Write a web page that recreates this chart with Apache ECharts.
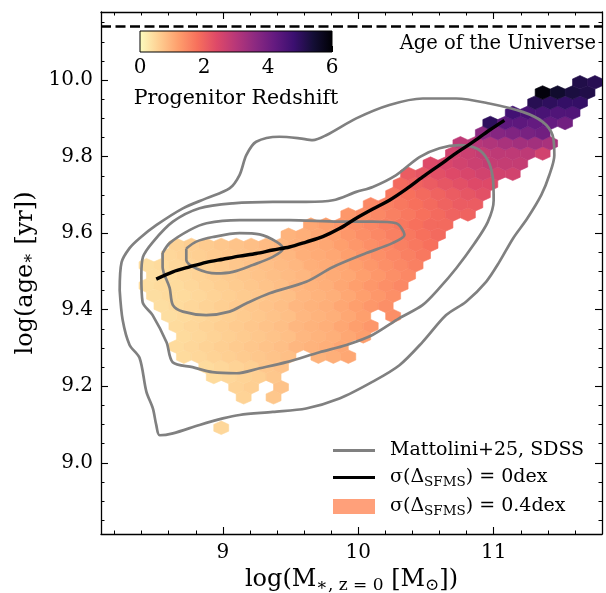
<!DOCTYPE html>
<html>
<head>
<meta charset="utf-8">
<script src="https://cdn.jsdelivr.net/npm/echarts@6/dist/echarts.min.js"></script>
<style>
  html, body { margin: 0; padding: 0; background: #ffffff; }
  #chart { width: 606px; height: 593px; }
</style>
</head>
<body>
<div id="chart"></div>
<script>
// ---- axis ranges and ticks ----
const xRange = [8.1, 11.8];
const yRange = [8.814, 10.178];
const xTickMajor = [9, 10, 11];
const xTickMinor = [8.2, 8.4, 8.6, 8.8, 9.2, 9.4, 9.6, 9.8, 10.2, 10.4, 10.6, 10.8, 11.2, 11.4, 11.6];
const yTickMajor = [9.0, 9.2, 9.4, 9.6, 9.8, 10.0];
const yTickMinor = [8.85, 8.9, 8.95, 9.05, 9.1, 9.15, 9.25, 9.3, 9.35, 9.45, 9.5, 9.55,
                    9.65, 9.7, 9.75, 9.85, 9.9, 9.95, 10.05, 10.1, 10.15];
const cbarRange = [0, 6];
const cbarTickMajor = [0, 2, 4, 6];
const cbarTickMinor = [0.5, 1, 1.5, 2.5, 3, 3.5, 4.5, 5, 5.5];

// log10 of the age of the Universe [yr]
const ageUniverse = 10.14;

// ---- hexbin of progenitor redshift ----
// lattice of bin centres (data units); odd rows are shifted by half a column
const hexOriginX = 8.988;
const hexOriginY = 9.0915;
const hexStepX = 0.1104;
const hexStepY = 0.02655;
// [row, first column, mean progenitor redshift per cell (null = empty cell)]
const hexRows = [
  [0, 0, [0.5]],
  [3, 1, [0.55, null, 0.7]],
  [4, 1, [0.55, 0.6, null, 0.75]],
  [5, -1, [0.45, 0.5, 0.55, 0.6, 0.7]],
  [6, -1, [0.45, 0.5, 0.55, 0.6, 0.7, 0.75]],
  [7, -3, [0.45, 0.5, 0.55, 0.6, 0.65, 0.7, 0.75, 0.8, null, 0.95, 1.0, 1.1]],
  [8, -3, [0.45, 0.5, 0.55, 0.6, 0.65, 0.7, 0.75, 0.8, 0.9, 0.95, 1.0, 1.1]],
  [9, -3, [0.45, 0.5, 0.55, 0.6, 0.65, 0.7, 0.75, 0.8, 0.9, 0.95, 1.0, 1.1, 1.2]],
  [10, -3, [0.45, 0.5, 0.55, 0.6, 0.65, 0.7, 0.75, 0.8, 0.9, 0.95, 1.0, 1.1, 1.2, 1.3]],
  [11, -4, [0.4, 0.45, 0.5, 0.55, 0.6, 0.65, 0.7, 0.75, 0.8, 0.9, 0.95, 1.0, 1.1, 1.2, null, 1.4]],
  [12, -4, [0.4, 0.45, 0.5, 0.55, 0.6, 0.65, 0.7, 0.75, 0.8, 0.9, 0.95, 1.0, 1.1, 1.2, 1.3, 1.4]],
  [13, -5, [0.4, 0.45, 0.45, 0.5, 0.55, 0.6, 0.65, 0.7, 0.75, 0.8, 0.9, 0.95, 1.0, 1.1, 1.2, 1.3, 1.4]],
  [14, -5, [0.4, 0.45, 0.45, 0.5, 0.55, 0.6, 0.65, 0.7, 0.75, 0.8, 0.9, 0.95, 1.0, 1.1, 1.2, 1.3, 1.4, 1.5]],
  [15, -5, [0.4, 0.45, 0.5, 0.55, 0.6, 0.65, 0.7, 0.75, 0.8, 0.85, 0.9, 1.0, 1.05, 1.1, 1.2, 1.3, 1.4, 1.5]],
  [16, -5, [0.4, 0.45, 0.5, 0.55, 0.6, 0.65, 0.7, 0.75, 0.8, 0.85, 0.9, 1.0, 1.05, 1.1, 1.2, 1.3, 1.4, 1.5, 1.6]],
  [17, -4, [0.5, 0.55, 0.6, 0.65, 0.7, 0.75, 0.8, 0.85, 0.9, 1.0, 1.05, 1.1, 1.2, 1.3, 1.4, 1.5, 1.6, 1.7]],
  [18, -3, [0.55, 0.6, 0.65, 0.7, 0.75, 0.8, 0.85, 0.9, 1.0, 1.05, 1.1, 1.2, 1.3, 1.4, 1.5, 1.6, 1.7, 1.8]],
  [19, 4, [0.95, 1.0, 1.1, 1.2, 1.3, 1.4, 1.5, 1.6, 1.7, 1.8, 1.9]],
  [20, 6, [1.1, 1.2, 1.3, 1.4, 1.5, 1.6, 1.7, 1.8, 1.9, 1.9]],
  [21, 8, [1.3, 1.4, 1.5, 1.6, 1.7, 1.8, 1.9, 2.0, 2.0]],
  [22, 10, [1.5, 1.6, 1.7, 1.8, 1.9, 2.0, 2.1, 2.1]],
  [23, 11, [1.7, 1.8, 1.9, 2.0, 2.1, 2.2, 2.3]],
  [24, 12, [1.9, 2.0, 2.1, 2.2, 2.3, 2.4, 2.4]],
  [25, 12, [2.1, 2.2, 2.3, 2.4, 2.5, 2.6, 2.6, 2.6]],
  [26, 14, [2.4, 2.5, 2.6, 2.7, 2.8, 2.8, 2.8]],
  [27, 15, [2.6, 2.7, 2.8, 2.9, 2.9, 2.9, 2.6]],
  [28, 16, [2.9, 3.0, 3.1, 3.2, 3.3, 3.3, 3.2]],
  [29, 17, [3.6, 3.7, 3.8, 3.9, 4.0]],
  [30, 18, [5.0, 4.3, 4.3, 4.2, 4.2, 4.0]],
  [31, 19, [4.7, 4.6, 4.6, 4.5, 4.5]],
  [32, 21, [5.1, 5.0, 4.9, 4.9]],
  [33, 21, [5.9, 5.5, 5.3, 5.2]],
  [34, 24, [5.2, 5.1]]
];

// ---- SDSS age–mass density contours (log M*, log age) ----
const contour1 = [
  [8.730, 9.560], [8.804, 9.578], [8.926, 9.590], [9.123, 9.600], [9.271, 9.597],
  [9.394, 9.578], [9.443, 9.560], [9.369, 9.538], [9.221, 9.517], [9.074, 9.499],
  [8.951, 9.495], [8.804, 9.508], [8.730, 9.530], [8.730, 9.560]
];
const contour2 = [
  [8.555, 9.548], [8.607, 9.574], [8.754, 9.608], [8.880, 9.626], [9.123, 9.634],
  [9.492, 9.634], [9.861, 9.630], [10.105, 9.630], [10.280, 9.626], [10.341, 9.595],
  [10.252, 9.574], [10.060, 9.548], [9.810, 9.511], [9.615, 9.473], [9.345, 9.443],
  [9.175, 9.417], [9.049, 9.395], [8.877, 9.386], [8.705, 9.395], [8.631, 9.412],
  [8.607, 9.457], [8.555, 9.512], [8.555, 9.548]
];
const contour3 = [
  [8.398, 9.490], [8.410, 9.538], [8.483, 9.577], [8.631, 9.630], [8.828, 9.665],
  [9.074, 9.678], [9.369, 9.682], [9.615, 9.682], [9.812, 9.686], [9.985, 9.708],
  [10.107, 9.721], [10.280, 9.752], [10.452, 9.799], [10.600, 9.822], [10.747, 9.830],
  [10.882, 9.820], [10.956, 9.791], [10.993, 9.747], [11.000, 9.686], [10.956, 9.629],
  [10.850, 9.569], [10.725, 9.509], [10.600, 9.457], [10.474, 9.412], [10.304, 9.378],
  [10.105, 9.334], [9.913, 9.308], [9.714, 9.289], [9.470, 9.263], [9.271, 9.247],
  [9.101, 9.234], [8.924, 9.237], [8.776, 9.250], [8.629, 9.263], [8.584, 9.315],
  [8.481, 9.386], [8.407, 9.420], [8.398, 9.490]
];
const contour4 = [
  [8.238, 9.451], [8.252, 9.524], [8.311, 9.561], [8.385, 9.587], [8.508, 9.621],
  [8.705, 9.665], [8.877, 9.691], [9.049, 9.717], [9.123, 9.752], [9.173, 9.804],
  [9.246, 9.839], [9.418, 9.852], [9.566, 9.848], [9.664, 9.843], [9.763, 9.856],
  [9.985, 9.900], [10.230, 9.935], [10.476, 9.952], [10.723, 9.952], [10.968, 9.939],
  [11.214, 9.917], [11.362, 9.891], [11.435, 9.856], [11.448, 9.804], [11.411, 9.752],
  [11.352, 9.700], [11.249, 9.639], [11.144, 9.587], [11.042, 9.525], [10.944, 9.473],
  [10.796, 9.421], [10.649, 9.386], [10.476, 9.316], [10.304, 9.255], [10.107, 9.212],
  [9.861, 9.168], [9.615, 9.142], [9.369, 9.133], [9.123, 9.125], [9.000, 9.116],
  [8.828, 9.099], [8.631, 9.077], [8.533, 9.072], [8.508, 9.099], [8.483, 9.142],
  [8.435, 9.186], [8.385, 9.274], [8.311, 9.308], [8.260, 9.373], [8.238, 9.451]
];

// ---- zero-scatter model track ----
const trackMass = [8.508, 8.631, 8.754, 8.877, 9.000, 9.123, 9.246, 9.369, 9.492, 9.615,
                   9.738, 9.861, 9.985, 10.107, 10.230, 10.354, 10.476, 10.600, 10.723,
                   10.845, 10.968, 11.079];
const trackAge = [9.480, 9.499, 9.512, 9.524, 9.532, 9.540, 9.547, 9.556, 9.564, 9.577,
                  9.591, 9.612, 9.639, 9.663, 9.686, 9.715, 9.747, 9.778, 9.809,
                  9.838, 9.869, 9.895];

// ---- names ----
const nameSDSS = 'Mattolini+25, SDSS';
const nameTrack = 'σ(Δ_SFMS) = 0dex';
const nameHex = 'σ(Δ_SFMS) = 0.4dex';

// magma colormap, reversed (low redshift = pale)
const magmaR = ['#fcfdbf', '#fecf92', '#fe9f6d', '#f7705c', '#de4968', '#b73779',
                '#8c2981', '#641a80', '#3b0f70', '#140e36', '#000004'];

const FONT = 'DejaVu Serif';
const TICK_FS = 20;

// build hex cells
const hexData = [];
hexRows.forEach(([row, col0, vals]) => {
  vals.forEach((v, k) => {
    if (v === null) return;
    const c = col0 + k + (row % 2 ? 0.5 : 0);
    hexData.push([hexOriginX + c * hexStepX, hexOriginY + row * hexStepY, v]);
  });
});

const chart = echarts.init(document.getElementById('chart'), null, { renderer: 'canvas' });

function tickAxis(dim, extra) {
  const base = {
    type: 'value', gridIndex: 0,
    min: dim === 'x' ? xRange[0] : yRange[0],
    max: dim === 'x' ? xRange[1] : yRange[1],
    splitLine: { show: false },
    axisLine: { show: false, onZero: false },
    axisLabel: { show: false },
    axisTick: { show: true, inside: true, length: 7, lineStyle: { color: '#000', width: 1.1 } }
  };
  return Object.assign(base, extra);
}

const axisText = { fontFamily: FONT, fontSize: TICK_FS, color: '#000' };
const lineIcon = 'path://M0,0H14V1H0Z';

const option = {
  animation: false,
  backgroundColor: '#ffffff',
  grid: [
    { left: 101, top: 12, width: 501, height: 522, containLabel: false, outerBoundsMode: 'none' },
    { left: 140, top: 31, width: 192, height: 21, containLabel: false, outerBoundsMode: 'none' }
  ],
  xAxis: [
    tickAxis('x', {
      position: 'bottom',
      axisLine: { show: true, onZero: false, lineStyle: { color: '#000', width: 1.3 } },
      axisTick: { show: true, inside: true, length: 7, customValues: xTickMajor, lineStyle: { color: '#000', width: 1.1 } },
      axisLabel: { show: true, customValues: xTickMajor, margin: 9, formatter: v => String(Math.round(v)), ...axisText },
      name: '{a|log(M}{s|∗, z = 0}{a| [M}{s|⊙}{a|])}',
      nameLocation: 'middle', nameGap: 30,
      nameTextStyle: {
        fontFamily: FONT, fontSize: 24, color: '#000',
        rich: {
          a: { fontFamily: FONT, fontSize: 24, color: '#000' },
          s: { fontFamily: FONT, fontSize: 17, color: '#000', padding: [11, 0, 0, 0] }
        }
      }
    }),
    tickAxis('x', { position: 'bottom', axisTick: { show: true, inside: true, length: 3.5, customValues: xTickMinor, lineStyle: { color: '#000', width: 1 } } }),
    tickAxis('x', { position: 'top', axisLine: { show: true, onZero: false, lineStyle: { color: '#000', width: 1.3 } },
      axisTick: { show: true, inside: true, length: 7, customValues: xTickMajor, lineStyle: { color: '#000', width: 1.1 } } }),
    tickAxis('x', { position: 'top', axisTick: { show: true, inside: true, length: 3.5, customValues: xTickMinor, lineStyle: { color: '#000', width: 1 } } }),
    {
      type: 'value', gridIndex: 1, min: cbarRange[0], max: cbarRange[1], position: 'bottom',
      splitLine: { show: false },
      axisLine: { show: false, onZero: false },
      axisTick: { show: true, inside: true, length: 6, customValues: cbarTickMajor, lineStyle: { color: '#000', width: 1 } },
      axisLabel: { show: true, customValues: cbarTickMajor, margin: 6, ...axisText },
      name: 'Progenitor Redshift', nameLocation: 'middle', nameGap: 36,
      nameTextStyle: { fontFamily: FONT, fontSize: 20.5, color: '#000' }
    },
    {
      type: 'value', gridIndex: 1, min: cbarRange[0], max: cbarRange[1], position: 'bottom',
      splitLine: { show: false }, axisLine: { show: false, onZero: false }, axisLabel: { show: false },
      axisTick: { show: true, inside: true, length: 3.5, customValues: cbarTickMinor, lineStyle: { color: '#000', width: 1 } }
    }
  ],
  yAxis: [
    tickAxis('y', {
      position: 'left',
      axisLine: { show: true, onZero: false, lineStyle: { color: '#000', width: 1.3 } },
      axisTick: { show: true, inside: true, length: 7, customValues: yTickMajor, lineStyle: { color: '#000', width: 1.1 } },
      axisLabel: { show: true, customValues: yTickMajor, margin: 8, formatter: v => v.toFixed(1), ...axisText },
      name: '{a|log(age}{s|∗}{a| [yr])}',
      nameLocation: 'middle', nameGap: 60,
      nameTextStyle: {
        fontFamily: FONT, fontSize: 24, color: '#000',
        rich: {
          a: { fontFamily: FONT, fontSize: 24, color: '#000' },
          s: { fontFamily: FONT, fontSize: 17, color: '#000', padding: [7, 0, 0, 0] }
        }
      }
    }),
    tickAxis('y', { position: 'left', axisTick: { show: true, inside: true, length: 3.5, customValues: yTickMinor, lineStyle: { color: '#000', width: 1 } } }),
    tickAxis('y', { position: 'right', axisLine: { show: true, onZero: false, lineStyle: { color: '#000', width: 1.3 } },
      axisTick: { show: true, inside: true, length: 7, customValues: yTickMajor, lineStyle: { color: '#000', width: 1.1 } } }),
    tickAxis('y', { position: 'right', axisTick: { show: true, inside: true, length: 3.5, customValues: yTickMinor, lineStyle: { color: '#000', width: 1 } } }),
    { type: 'value', gridIndex: 1, min: 0, max: 1, show: false }
  ],
  visualMap: [{
    type: 'continuous', show: false, seriesIndex: 0, dimension: 2,
    min: cbarRange[0], max: cbarRange[1], inRange: { color: magmaR }
  }],
  legend: {
    orient: 'vertical', left: 328, top: 436,
    itemWidth: 42, itemHeight: 15, itemGap: 8,
    selectedMode: false,
    data: [
      { name: nameSDSS, icon: lineIcon, itemStyle: { color: '#808080' } },
      { name: nameTrack, icon: lineIcon, itemStyle: { color: '#000000' } },
      { name: nameHex, icon: 'rect', itemStyle: { color: '#ffa07a' } }
    ],
    formatter: name => {
      const i = name.indexOf('Δ_SFMS');
      if (i < 0) return '{t|' + name + '}';
      return '{t|' + name.slice(0, i) + 'Δ}{s|SFMS}{t|' + name.slice(i + 6) + '}';
    },
    textStyle: {
      fontFamily: FONT, fontSize: 19, color: '#000', padding: [0, 0, 0, 10],
      rich: {
        t: { fontFamily: FONT, fontSize: 19, color: '#000' },
        s: { fontFamily: FONT, fontSize: 13.5, color: '#000', padding: [9, 0, 0, 0] }
      }
    }
  },
  series: [
    {
      name: nameHex, type: 'custom', xAxisIndex: 0, yAxisIndex: 0, clip: true, z: 1,
      data: hexData,
      renderItem: (params, api) => {
        const p = api.coord([api.value(0), api.value(1)]);
        const s = api.size([hexStepX, hexStepY]);
        const hw = s[0] / 2, h1 = s[1] / 3, h2 = 2 * s[1] / 3;
        const color = api.visual('color');
        return {
          type: 'polygon',
          shape: { points: [
            [p[0] + hw, p[1] - h1], [p[0] + hw, p[1] + h1], [p[0], p[1] + h2],
            [p[0] - hw, p[1] + h1], [p[0] - hw, p[1] - h1], [p[0], p[1] - h2]
          ] },
          style: { fill: color, stroke: color, lineWidth: 0.6 }
        };
      }
    },
    ...[contour1, contour2, contour3, contour4].map(c => ({
      name: nameSDSS, type: 'line', xAxisIndex: 0, yAxisIndex: 0, data: c,
      symbol: 'none', smooth: 0.3, z: 3,
      lineStyle: { color: '#808080', width: 2.7 }, itemStyle: { color: '#808080' }
    })),
    {
      name: nameTrack, type: 'line', xAxisIndex: 0, yAxisIndex: 0,
      data: trackMass.map((m, i) => [m, trackAge[i]]),
      symbol: 'none', smooth: 0.3, z: 4,
      lineStyle: { color: '#000', width: 3.4 }, itemStyle: { color: '#000' }
    },
    {
      name: 'ageUniverse', type: 'line', xAxisIndex: 0, yAxisIndex: 0,
      data: [[xRange[0], ageUniverse], [xRange[1], ageUniverse]],
      symbol: 'none', z: 4,
      lineStyle: { color: '#000', width: 2.4, type: [10, 4.5] }
    },
    {
      name: 'colorbar', type: 'custom', xAxisIndex: 4, yAxisIndex: 4, z: 5,
      data: [[cbarRange[0], cbarRange[1]]],
      renderItem: (params, api) => {
        const a = api.coord([api.value(0), 0]);
        const b = api.coord([api.value(1), 1]);
        return {
          type: 'rect',
          shape: { x: a[0], y: b[1], width: b[0] - a[0], height: a[1] - b[1] },
          style: {
            fill: new echarts.graphic.LinearGradient(0, 0, 1, 0,
              magmaR.map((c, i) => ({ offset: i / (magmaR.length - 1), color: c }))),
            stroke: '#000', lineWidth: 1
          }
        };
      }
    }
  ],
  graphic: [{
    type: 'text', right: 10, top: 34, z: 10,
    style: { text: 'Age of the Universe', fontFamily: FONT, fontSize: 19.5, fill: '#000' }
  }]
};

chart.setOption(option);
</script>
</body>
</html>
